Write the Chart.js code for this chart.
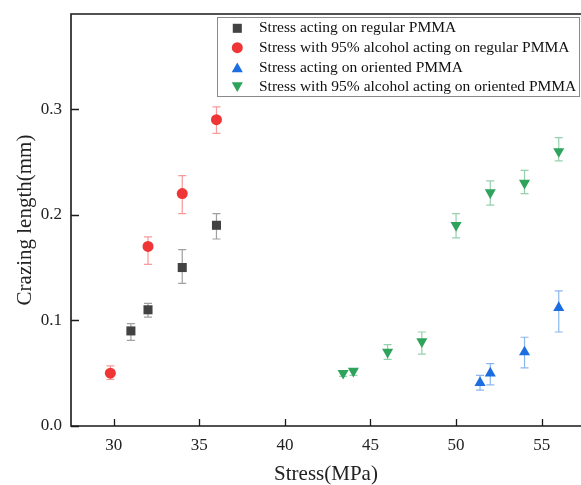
<!DOCTYPE html>
<html>
<head>
<meta charset="utf-8">
<script src="https://cdn.jsdelivr.net/npm/chart.js@4/dist/chart.umd.min.js"></script>
<style>
  html, body { margin: 0; padding: 0; background: #fff; overflow: hidden; }
  #crazing-chart { display: block; }
</style>
</head>
<body>
<canvas id="crazing-chart" width="581" height="485"></canvas>
<script>
// datos
const xTicks = [30, 35, 40, 45, 50, 55];
const yTicks = [0, 0.1, 0.2, 0.3];

const labels = [
  "Stress acting on regular PMMA",
  "Stress with 95% alcohol acting on regular PMMA",
  "Stress acting on oriented PMMA",
  "Stress with 95% alcohol acting on oriented PMMA",
];

const regStress = [31, 32, 34, 36];
const regLength = [0.090, 0.110, 0.150, 0.190];
const regLow = [0.081, 0.103, 0.135, 0.177];
const regHigh = [0.097, 0.116, 0.167, 0.201];

const alcRegStress = [29.8, 32, 34, 36];
const alcRegLength = [0.050, 0.170, 0.220, 0.290];
const alcRegLow = [0.044, 0.153, 0.201, 0.277];
const alcRegHigh = [0.057, 0.179, 0.237, 0.302];

const oriStress = [51.4, 52, 54, 56];
const oriLength = [0.041, 0.050, 0.070, 0.112];
const oriLow = [0.034, 0.039, 0.055, 0.089];
const oriHigh = [0.048, 0.059, 0.084, 0.128];

const alcOriStress = [43.4, 44, 46, 48, 50, 52, 54, 56];
const alcOriLength = [0.050, 0.052, 0.070, 0.080, 0.190, 0.221, 0.230, 0.260];
const alcOriLow = [0.047, 0.048, 0.063, 0.068, 0.178, 0.209, 0.220, 0.251];
const alcOriHigh = [0.052, 0.053, 0.077, 0.089, 0.201, 0.232, 0.242, 0.273];

const colors = ["#424242", "#ef3535", "#1c6ee0", "#2ea35c"];
const barColors = ["rgba(66,66,66,0.5)", "rgba(239,53,53,0.5)", "rgba(28,110,224,0.5)", "rgba(46,163,92,0.5)"];

const serif = "'Liberation Serif', 'Times New Roman', serif";

function toPoints(xs, ys) {
  return xs.map((x, i) => ({ x: x, y: ys[i] }));
}

const series = [
  { x: regStress, y: regLength, low: regLow, high: regHigh, style: "rect", radius: 6.4, rot: 0 },
  { x: alcRegStress, y: alcRegLength, low: alcRegLow, high: alcRegHigh, style: "circle", radius: 5.5, rot: 0 },
  { x: oriStress, y: oriLength, low: oriLow, high: oriHigh, style: "triangle", radius: 6.4, rot: 0 },
  { x: alcOriStress, y: alcOriLength, low: alcOriLow, high: alcOriHigh, style: "triangle", radius: 6.4, rot: 180 },
];

/**
 * barras de error, marco, ticks hacia adentro y leyenda
 */
const extras = {
  id: "extras",
  beforeDatasetsDraw(chart) {
    const ctx = chart.ctx;
    const xs = chart.scales.x;
    const ys = chart.scales.y;
    ctx.save();
    ctx.lineWidth = 1.2;
    series.forEach((s, k) => {
      ctx.strokeStyle = barColors[k];
      s.x.forEach((xv, i) => {
        const px = xs.getPixelForValue(xv);
        const top = ys.getPixelForValue(s.high[i]);
        const bot = ys.getPixelForValue(s.low[i]);
        ctx.beginPath();
        ctx.moveTo(px, top);
        ctx.lineTo(px, bot);
        ctx.moveTo(px - 4, top);
        ctx.lineTo(px + 4, top);
        ctx.moveTo(px - 4, bot);
        ctx.lineTo(px + 4, bot);
        ctx.stroke();
      });
    });
    ctx.restore();
  },
  afterDraw(chart) {
    const ctx = chart.ctx;
    const area = chart.chartArea;
    const xs = chart.scales.x;
    const ys = chart.scales.y;
    ctx.save();
    ctx.strokeStyle = "#1a1a1a";
    ctx.lineWidth = 1.6;
    ctx.beginPath();
    ctx.moveTo(area.right + 2, area.top);
    ctx.lineTo(area.left, area.top);
    ctx.lineTo(area.left, area.bottom);
    ctx.lineTo(area.right + 2, area.bottom);
    ctx.stroke();

    ctx.lineWidth = 1.3;
    ctx.beginPath();
    xTicks.forEach((v) => {
      const px = Math.round(xs.getPixelForValue(v)) + 0.5;
      ctx.moveTo(px, area.bottom);
      ctx.lineTo(px, area.bottom - 7);
    });
    yTicks.forEach((v) => {
      const py = Math.round(ys.getPixelForValue(v)) + 0.5;
      ctx.moveTo(area.left, py);
      ctx.lineTo(area.left + 8, py);
    });
    ctx.stroke();

    // leyenda
    const box = { x: 217.5, y: 17.5, w: 362, h: 79 };
    ctx.fillStyle = "#fff";
    ctx.fillRect(box.x, box.y, box.w, box.h);
    ctx.strokeStyle = "#8a8a8a";
    ctx.lineWidth = 1;
    ctx.strokeRect(box.x, box.y, box.w, box.h);
    ctx.font = "15.5px " + serif;
    ctx.textBaseline = "middle";
    const rows = [28.3, 47.7, 67.5, 87];
    labels.forEach((txt, k) => {
      const y = rows[k];
      const s = series[k];
      ctx.fillStyle = colors[k];
      drawMarker(ctx, s.style, 237.3, y + (s.style === "triangle" ? (s.rot ? -1.5 : 1.5) : 0), s.radius, s.rot);
      ctx.fillStyle = "#111";
      ctx.fillText(txt, 259, y);
    });
    ctx.restore();
  },
};

function drawMarker(ctx, style, x, y, r, rot) {
  ctx.beginPath();
  if (style === "rect") {
    const h = r * Math.SQRT1_2;
    ctx.rect(x - h, y - h, 2 * h, 2 * h);
  } else if (style === "circle") {
    ctx.arc(x, y, r, 0, Math.PI * 2);
  } else {
    let a = rot * Math.PI / 180;
    ctx.moveTo(x + Math.sin(a) * r, y - Math.cos(a) * r);
    a += 2 * Math.PI / 3;
    ctx.lineTo(x + Math.sin(a) * r, y - Math.cos(a) * r);
    a += 2 * Math.PI / 3;
    ctx.lineTo(x + Math.sin(a) * r, y - Math.cos(a) * r);
    ctx.closePath();
  }
  ctx.fill();
}

const datasets = series.map((s, k) => ({
  label: labels[k],
  data: toPoints(s.x, s.y),
  pointStyle: s.style,
  pointRadius: s.radius,
  pointRotation: s.rot,
  pointBackgroundColor: colors[k],
  pointBorderColor: colors[k],
  pointBorderWidth: 0,
  showLine: false,
}));

const contenedor = document.querySelector("#crazing-chart").getContext("2d");

const crazingChart = new Chart(contenedor, {
  type: "scatter",
  data: { datasets: datasets },
  options: {
    responsive: false,
    animation: false,
    events: [],
    layout: { autoPadding: false, padding: { top: 14, right: 0, left: 0, bottom: 0 } },
    plugins: {
      legend: { display: false },
      tooltip: { enabled: false },
    },
    scales: {
      x: {
        type: "linear",
        min: 27.5,
        max: 57.3,
        afterBuildTicks: (scale) => { scale.ticks = xTicks.map((v) => ({ value: v })); },
        afterFit: (scale) => {
          scale.height = 59;
          scale.paddingLeft = 0;
          scale.paddingRight = 0;
        },
        grid: { display: false, drawTicks: false },
        border: { display: false },
        ticks: {
          color: "#222",
          padding: 9,
          maxRotation: 0,
          font: { family: serif, size: 17 },
        },
        title: {
          display: true,
          text: "Stress(MPa)",
          color: "#222",
          padding: { top: 0, bottom: -2 },
          font: { family: serif, size: 21 },
        },
      },
      y: {
        type: "linear",
        min: 0,
        max: 0.39,
        afterBuildTicks: (scale) => { scale.ticks = yTicks.map((v) => ({ value: v })); },
        afterFit: (scale) => {
          scale.width = 71;
          scale.paddingTop = 0;
          scale.paddingBottom = 0;
        },
        grid: { display: false, drawTicks: false },
        border: { display: false },
        ticks: {
          color: "#222",
          padding: 9,
          font: { family: serif, size: 17 },
          callback: (v) => Number(v).toFixed(1),
        },
        title: {
          display: true,
          text: "Crazing length(mm)",
          color: "#222",
          padding: { top: 13, bottom: 0 },
          font: { family: serif, size: 21 },
        },
      },
    },
  },
  plugins: [extras],
});
</script>
</body>
</html>
